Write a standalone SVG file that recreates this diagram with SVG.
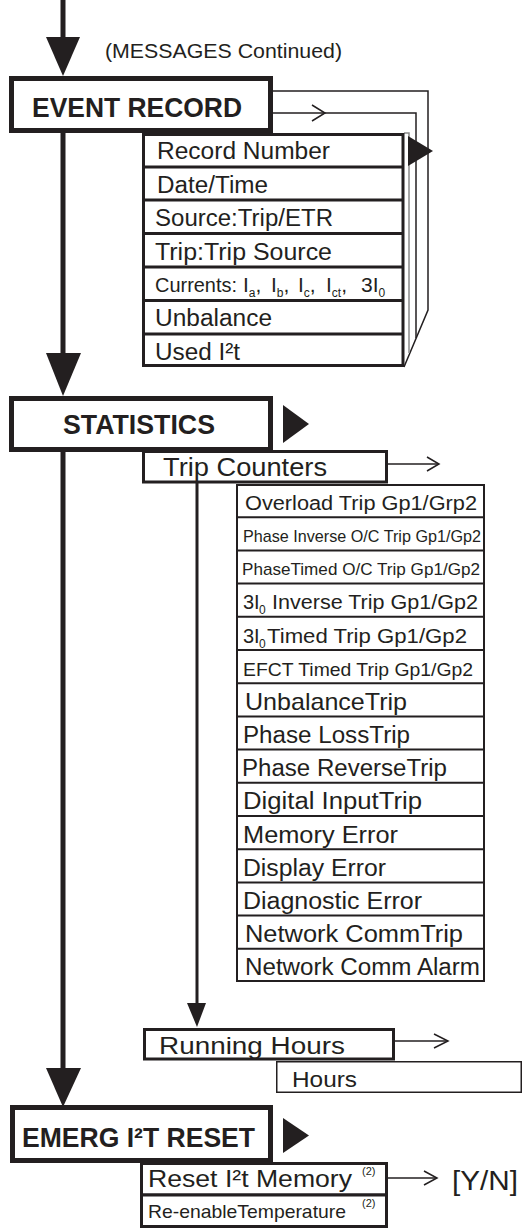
<svg xmlns="http://www.w3.org/2000/svg" width="532" height="1231" viewBox="0 0 532 1231">
<defs>
<style>
text { font-family: "Liberation Sans", Arial, sans-serif; fill: #231f20; }
.title { font-weight: bold; font-size: 28px; }
.head { fill: #fff; stroke: #231f20; stroke-width: 5; }
.box { fill: #fff; stroke: #231f20; stroke-width: 3; }
.lst { fill: #fff; stroke: #231f20; stroke-width: 2; }
.div3 { stroke: #231f20; stroke-width: 3; }
.div2 { stroke: #231f20; stroke-width: 2; }
.thin { fill: none; stroke: #231f20; stroke-width: 1.5; }
.gray { fill: none; stroke: #8a8a8a; stroke-width: 1.5; }
.main { stroke: #231f20; stroke-width: 5; }
.sub { stroke: #231f20; stroke-width: 3; }
.ah { fill: #231f20; }
.r22 { font-size: 23.5px; }
.r19 { font-size: 20px; }
.r16 { font-size: 17px; }
.r21 { font-size: 23px; }
.s12 { font-size: 12px; }
.s11 { font-size: 11px; }
</style>
</defs>
<rect width="532" height="1231" fill="#fff"/>

<g id="connectors">
  <line class="main" x1="63" y1="0" x2="63" y2="40"/>
  <polygon class="ah" points="46,37 80,37 63,76"/>
  <line class="main" x1="63" y1="133" x2="63" y2="356"/>
  <polygon class="ah" points="46,353 81,353 63,396"/>
  <line class="main" x1="63" y1="452" x2="63" y2="1070"/>
  <polygon class="ah" points="46,1068 81,1068 63,1107"/>
  <line class="sub" x1="197" y1="483" x2="197" y2="1005"/>
  <polygon class="ah" points="187,1003 206,1003 197,1027"/>
  <polyline class="thin" points="273,91 428,91 428,310 404,367"/>
  <polyline class="thin" points="273,113 416,113 416,338"/>
  <polyline class="gray" points="404,133 409,133 409,353"/>
  <polyline class="thin" points="312,105 325,113 312,121"/>
  <polygon class="ah" points="408,136 408,166 433,151"/>
  <polygon class="ah" points="283,405 283,443 309,424"/>
  <line class="thin" x1="388" y1="464" x2="439" y2="464"/>
  <polyline class="thin" points="427,457 439,464 427,471"/>
  <line class="thin" x1="395" y1="1041" x2="448" y2="1041"/>
  <polyline class="thin" points="434,1034 448,1041 434,1048"/>
  <polygon class="ah" points="283,1118 283,1153 309,1135.5"/>
  <line class="thin" x1="388" y1="1178" x2="437" y2="1178"/>
  <polyline class="thin" points="424,1171 437,1178 424,1185"/>
</g>

<text x="105" y="58" font-size="20" textLength="237" lengthAdjust="spacingAndGlyphs">(MESSAGES Continued)</text>

<g id="event-record">
  <rect class="head" x="11.5" y="78.5" width="259" height="52"/>
  <text class="title" x="32" y="117" textLength="210" lengthAdjust="spacingAndGlyphs">EVENT RECORD</text>
</g>

<g id="event-record-list">
  <rect class="box" x="143.5" y="134.5" width="259.5" height="231"/>
  <line class="div3" x1="142" y1="167" x2="404" y2="167"/>
  <line class="div3" x1="142" y1="200" x2="404" y2="200"/>
  <line class="div3" x1="142" y1="233.5" x2="404" y2="233.5"/>
  <line class="div3" x1="142" y1="267" x2="404" y2="267"/>
  <line class="div3" x1="142" y1="300.5" x2="404" y2="300.5"/>
  <line class="div3" x1="142" y1="334" x2="404" y2="334"/>
  <text class="r22" x="157" y="159" textLength="173" lengthAdjust="spacingAndGlyphs">Record Number</text>
  <text class="r22" x="157" y="192.5" textLength="111" lengthAdjust="spacingAndGlyphs">Date/Time</text>
  <text class="r22" x="155" y="226" textLength="178" lengthAdjust="spacingAndGlyphs">Source:Trip/ETR</text>
  <text class="r22" x="155" y="259.5" textLength="177" lengthAdjust="spacingAndGlyphs">Trip:Trip Source</text>
  <text font-size="21" y="292"><tspan x="155" textLength="82" lengthAdjust="spacingAndGlyphs">Currents:</tspan><tspan x="243">I</tspan><tspan dy="5" font-size="12">a</tspan><tspan dy="-5">,</tspan><tspan x="271">I</tspan><tspan dy="5" font-size="12">b</tspan><tspan dy="-5">,</tspan><tspan x="298">I</tspan><tspan dy="5" font-size="12">c</tspan><tspan dy="-5">,</tspan><tspan x="326">I</tspan><tspan dy="5" font-size="12">ct</tspan><tspan dy="-5">,</tspan><tspan x="361">3I</tspan><tspan dy="5" font-size="12">0</tspan></text>
  <text class="r22" x="155" y="326" textLength="117" lengthAdjust="spacingAndGlyphs">Unbalance</text>
  <text class="r22" x="155" y="359.5" textLength="85" lengthAdjust="spacingAndGlyphs">Used I²t</text>
</g>

<g id="statistics">
  <rect class="head" x="11.5" y="398.5" width="259" height="51"/>
  <text class="title" x="63" y="434" textLength="152" lengthAdjust="spacingAndGlyphs">STATISTICS</text>
</g>

<g id="trip-counters">
  <rect class="box" x="143.5" y="451.5" width="243" height="30.5"/>
  <text x="163" y="475.5" font-size="25" textLength="164" lengthAdjust="spacingAndGlyphs">Trip Counters</text>
</g>

<g id="trip-counter-list">
  <rect class="lst" x="237" y="485" width="247" height="496"/>
  <line class="div2" x1="236" y1="517.2" x2="485" y2="517.2"/>
  <line class="div2" x1="236" y1="550.4" x2="485" y2="550.4"/>
  <line class="div2" x1="236" y1="583.6" x2="485" y2="583.6"/>
  <line class="div2" x1="236" y1="616.8" x2="485" y2="616.8"/>
  <line class="div2" x1="236" y1="650" x2="485" y2="650"/>
  <line class="div2" x1="236" y1="683.2" x2="485" y2="683.2"/>
  <line class="div2" x1="236" y1="716.4" x2="485" y2="716.4"/>
  <line class="div2" x1="236" y1="749.6" x2="485" y2="749.6"/>
  <line class="div2" x1="236" y1="782.8" x2="485" y2="782.8"/>
  <line class="div2" x1="236" y1="816" x2="485" y2="816"/>
  <line class="div2" x1="236" y1="849.2" x2="485" y2="849.2"/>
  <line class="div2" x1="236" y1="882.4" x2="485" y2="882.4"/>
  <line class="div2" x1="236" y1="915.6" x2="485" y2="915.6"/>
  <line class="div2" x1="236" y1="948.8" x2="485" y2="948.8"/>
  <text class="r19" x="245" y="509.5" textLength="232" lengthAdjust="spacingAndGlyphs">Overload  Trip Gp1/Grp2</text>
  <text class="r16" x="243" y="541.5" textLength="238" lengthAdjust="spacingAndGlyphs">Phase Inverse O/C Trip Gp1/Gp2</text>
  <text class="r16" x="242" y="575" textLength="238" lengthAdjust="spacingAndGlyphs">PhaseTimed O/C Trip Gp1/Gp2</text>
  <text class="r19" x="243" y="609">3I<tspan x="259" dy="5" class="s12">0</tspan><tspan x="272" dy="-5" textLength="206" lengthAdjust="spacingAndGlyphs">Inverse  Trip Gp1/Gp2</tspan></text>
  <text class="r19" x="243" y="642.5">3I<tspan x="259" dy="5" class="s12">0</tspan><tspan x="267" dy="-5" textLength="200" lengthAdjust="spacingAndGlyphs">Timed  Trip Gp1/Gp2</tspan></text>
  <text font-size="19" x="243" y="675.5" textLength="230" lengthAdjust="spacingAndGlyphs">EFCT Timed Trip Gp1/Gp2</text>
  <text font-size="24" x="245" y="709.5" textLength="162" lengthAdjust="spacingAndGlyphs">UnbalanceTrip</text>
  <text class="r21" x="243" y="743" textLength="167" lengthAdjust="spacingAndGlyphs">Phase LossTrip</text>
  <text class="r21" x="242" y="776" textLength="205" lengthAdjust="spacingAndGlyphs">Phase ReverseTrip</text>
  <text class="r21" x="243" y="809" textLength="179" lengthAdjust="spacingAndGlyphs">Digital InputTrip</text>
  <text class="r21" x="243" y="842.5" textLength="155" lengthAdjust="spacingAndGlyphs">Memory Error</text>
  <text class="r21" x="243" y="875.5" textLength="143" lengthAdjust="spacingAndGlyphs">Display Error</text>
  <text class="r21" x="243" y="908.5" textLength="179" lengthAdjust="spacingAndGlyphs">Diagnostic Error</text>
  <text class="r21" x="245" y="942" textLength="218" lengthAdjust="spacingAndGlyphs">Network CommTrip</text>
  <text class="r21" x="245" y="975" textLength="235" lengthAdjust="spacingAndGlyphs">Network Comm Alarm</text>
</g>

<g id="running-hours">
  <rect class="box" x="144.5" y="1029.5" width="249" height="29.5"/>
  <text x="159" y="1053.5" font-size="24.5" textLength="186" lengthAdjust="spacingAndGlyphs">Running Hours</text>
</g>

<g id="hours">
  <rect fill="#fff" stroke="#231f20" stroke-width="1.5" x="276.75" y="1061.75" width="244.5" height="30.5"/>
  <text x="292" y="1087" font-size="22" textLength="65" lengthAdjust="spacingAndGlyphs">Hours</text>
</g>

<g id="emerg-reset">
  <rect class="head" x="12.5" y="1107.5" width="258" height="53"/>
  <text class="title" x="22" y="1147" textLength="233" lengthAdjust="spacingAndGlyphs">EMERG I²T RESET</text>
</g>

<g id="reset-memory">
  <rect class="box" x="141.5" y="1163.5" width="245" height="31.5"/>
  <text font-size="24" x="148" y="1186.5" textLength="204" lengthAdjust="spacingAndGlyphs">Reset I²t Memory</text>
  <text class="s11" x="362" y="1175">(2)</text>
</g>

<g id="reenable-temp">
  <rect class="box" x="141.5" y="1195" width="245" height="31.5"/>
  <text x="148" y="1218" font-size="19" textLength="198" lengthAdjust="spacingAndGlyphs">Re-enableTemperature</text>
  <text class="s11" x="362" y="1207">(2)</text>
</g>

<text x="452" y="1190" font-size="28" textLength="66" lengthAdjust="spacingAndGlyphs">[Y/N]</text>
</svg>
